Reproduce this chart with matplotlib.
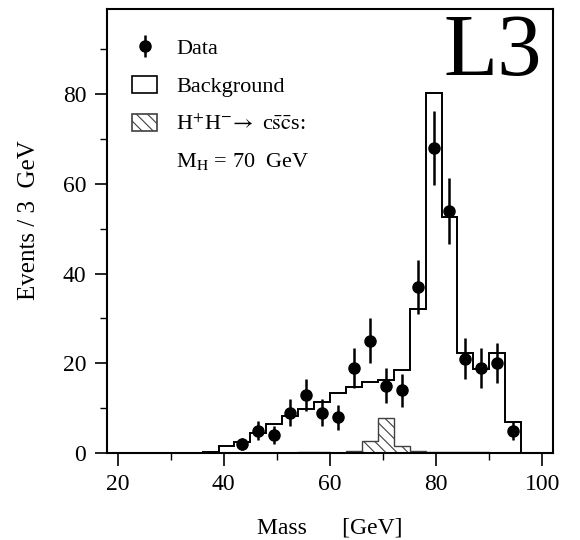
import matplotlib.pyplot as plt
from matplotlib.patches import Patch
from matplotlib.ticker import MultipleLocator

plt.rcParams['font.family'] = ['Liberation Serif', 'DejaVu Serif']
plt.rcParams['mathtext.fontset'] = 'stix'
plt.rcParams['hatch.linewidth'] = 0.8

# 3 GeV bins
bin_edges = [36, 39, 42, 45, 48, 51, 54, 57, 60, 63, 66,
             69, 72, 75, 78, 81, 84, 87, 90, 93, 96]
background = [0.3, 1.6, 2.5, 4.5, 6.4, 8.2, 9.9, 11.4, 13.3, 14.7,
              15.9, 16.2, 18.6, 32.2, 80.2, 52.7, 22.2, 18.7, 22.2, 6.9]
signal = [0, 0, 0, 0, 0, 0, 0.2, 0.2, 0, 0.4,
          2.7, 7.7, 1.5, 0.4, 0.2, 0.3, 0.2, 0.3, 0, 0]

mass = [43.5, 46.5, 49.5, 52.5, 55.5, 58.5, 61.5, 64.5, 67.5,
        70.5, 73.5, 76.5, 79.5, 82.5, 85.5, 88.5, 91.5, 94.5]
events = [2, 5, 4, 9, 13, 9, 8, 19, 25, 15, 14, 37, 68, 54, 21, 19, 20, 5]
errors = [1.4, 2.2, 2.0, 3.0, 3.6, 3.0, 2.8, 4.4, 5.0,
          3.9, 3.7, 6.1, 8.2, 7.3, 4.6, 4.4, 4.5, 2.2]

x_ticks = [20, 40, 60, 80, 100]
y_ticks = [0, 20, 40, 60, 80]

fig = plt.figure(figsize=(5.8, 5.4), dpi=100)
ax = fig.add_axes([107 / 580, 1 - 453 / 540, 446 / 580, 444 / 540])

ax.stairs(background, bin_edges, color='k', lw=1.4, zorder=2)
ax.stairs(signal, bin_edges, fill=False, hatch='\\\\\\', edgecolor='0.25',
          lw=1.0, zorder=2)
eb = ax.errorbar(mass, events, yerr=errors, fmt='o', color='k', ms=8,
                 elinewidth=1.8, capsize=0, zorder=3)

ax.set_xlim(18, 102)
ax.set_ylim(0, 99)
ax.set_xticks(x_ticks)
ax.set_yticks(y_ticks)
ax.xaxis.set_minor_locator(MultipleLocator(10))
ax.yaxis.set_minor_locator(MultipleLocator(10))
ax.tick_params(which='major', direction='out', length=9, width=1.2,
               labelsize=17, pad=6)
ax.tick_params(which='minor', direction='out', length=5, width=1.0)
for s in ax.spines.values():
    s.set_linewidth(1.5)

ax.set_xlabel('Mass      [GeV]', fontsize=17, labelpad=16)
ax.set_ylabel('Events / 3  GeV', fontsize=18)
ax.yaxis.set_label_coords(-0.15, 0.525)

handles = [eb,
           Patch(facecolor='white', edgecolor='k', lw=1.2),
           Patch(facecolor='white', edgecolor='0.25', lw=1.2, hatch='\\\\\\')]
labels = ['Data', 'Background',
          r'H$^{+}$H$^{-}\!\rightarrow$ c$\bar{\mathrm{s}}\bar{\mathrm{c}}$s:']
ax.legend(handles, labels, loc='upper left', bbox_to_anchor=(0.036, 0.955),
          frameon=False, fontsize=16, handlelength=1.13, handleheight=0.8,
          handletextpad=0.85, labelspacing=0.75, borderaxespad=0)
ax.text(0.155, 0.644, r'M$_{\rm H}$ = 70  GeV', fontsize=16,
        transform=ax.transAxes, va='baseline')

ax.text(0.975, 0.851, 'L3', fontsize=64, ha='right', va='baseline',
        transform=ax.transAxes)

fig.savefig('out.png', dpi=100)
